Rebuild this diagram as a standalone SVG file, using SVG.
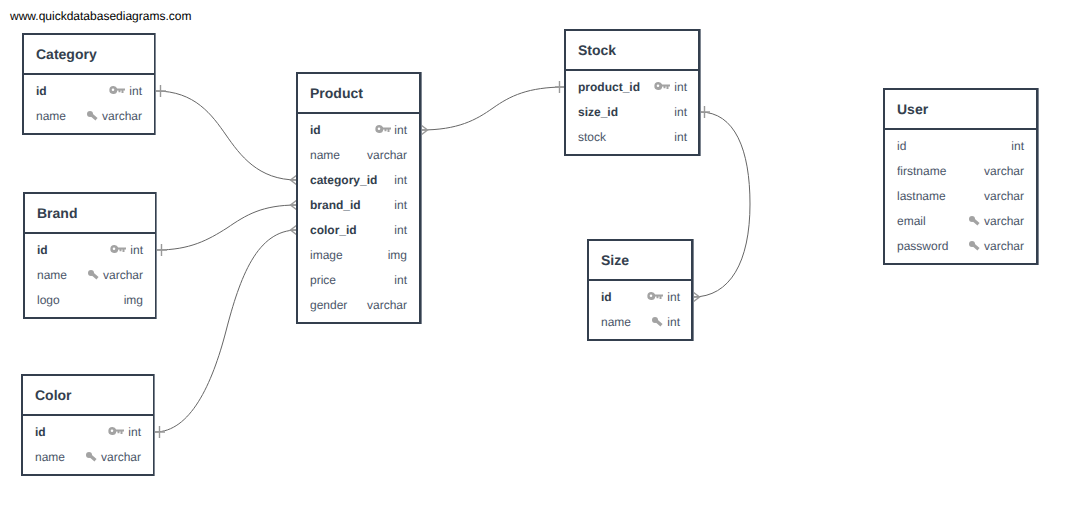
<svg xmlns="http://www.w3.org/2000/svg" width="1075" height="511" viewBox="0 0 1075 511">
<style>
text{font-family:"Liberation Sans",Arial,sans-serif;font-size:12px;fill:#4a5568;text-rendering:geometricPrecision;opacity:.999}
.site{fill:#000}
.t{font-size:14px;font-weight:bold;fill:#343f4e}
.b{font-weight:bold;fill:#343f4e}
.r{text-anchor:end}
.box{fill:#fff;stroke:#343f4e;stroke-width:2}
.edge{fill:none;stroke:#7d8590;stroke-width:1}
.hl{stroke:#343f4e;stroke-width:2}
.c{fill:none;stroke:#666;stroke-width:1}
.m{fill:none;stroke:#999;stroke-width:1.400}
.kf{fill:#a3a3a3}
</style>
<defs>
<g id="pk"><path class="kf" fill-rule="evenodd" d="M4 0A4 4 0 0 1 7.700 2.500H15.500V4.500H14V7H12V4.500H11V6.300H9V4.500H7.800A4 4 0 1 1 4 0ZM3.500 2.500A1.300 1.300 0 1 0 3.500 5.100A1.300 1.300 0 1 0 3.500 2.500Z"/></g>
<g id="fk"><circle cx="3" cy="3" r="3" class="kf"/><path d="M4 3.500L9.500 8.300" stroke="#a3a3a3" stroke-width="3.200" fill="none"/></g>
</defs>
<text class="site" x="10" y="20">www.quickdatabasediagrams.com</text>
<g id="connectors">
<path class="c" d="M156 91C195 91 212 115 226 135C240 155 258 180 297 180"/><path class="m" d="M156 91H166M160.500 85V97M297 175L290.500 180L297 185M290.500 180H297"/>
<path class="c" d="M157 250C190 250 208 240 227 228C246 215 262 205 297 205"/><path class="m" d="M157 250H167M161.500 244V256M297 200L290.500 205L297 210M290.500 205H297"/>
<path class="c" d="M155 432C190 432 212 385 226 331C240 277 257 230 297 230"/><path class="m" d="M155 432H165M159.500 426V438M297 225L290.500 230L297 235M290.500 230H297"/>
<path class="c" d="M421 130C458 130 476 120 493 108C510 96 528 87 565 87"/><path class="m" d="M421 125L427.500 130L421 135M421 130H427.500M555 87H565M559.500 81V93"/>
<path class="c" d="M700 112C735 112 750 150 750 204C750 262 730 297 693 297"/><path class="m" d="M700 112H710M704.500 106V118M693 292L699.500 297L693 302M693 297H699.500"/>
</g>
<g id="category">
<rect class="box" x="23" y="34" width="132" height="100"/><path class="edge" d="M155.500 33V135"/><path class="hl" d="M23 74H155"/>
<text class="t" x="36" y="59">Category</text>
<text class="b" x="36" y="95">id</text><use href="#pk" x="109.500" y="86"/><text class="r" x="142" y="95">int</text>
<text x="36" y="120">name</text><use href="#fk" x="87" y="111"/><text class="r" x="142" y="120">varchar</text>
</g>
<g id="brand">
<rect class="box" x="24" y="193" width="132" height="125"/><path class="edge" d="M156.500 192V319"/><path class="hl" d="M24 233H156"/>
<text class="t" x="37" y="218">Brand</text>
<text class="b" x="37" y="254">id</text><use href="#pk" x="110.500" y="245"/><text class="r" x="143" y="254">int</text>
<text x="37" y="279">name</text><use href="#fk" x="88" y="270"/><text class="r" x="143" y="279">varchar</text>
<text x="37" y="304">logo</text><text class="r" x="143" y="304">img</text>
</g>
<g id="color">
<rect class="box" x="22" y="375" width="132" height="100"/><path class="edge" d="M154.500 374V476"/><path class="hl" d="M22 415H154"/>
<text class="t" x="35" y="400">Color</text>
<text class="b" x="35" y="436">id</text><use href="#pk" x="108.500" y="427"/><text class="r" x="141" y="436">int</text>
<text x="35" y="461">name</text><use href="#fk" x="86" y="452"/><text class="r" x="141" y="461">varchar</text>
</g>
<g id="product">
<rect class="box" x="297" y="73" width="123" height="250"/><path class="edge" d="M421.500 72V324"/><path class="hl" d="M297 113H420"/>
<text class="t" x="310" y="98">Product</text>
<text class="b" x="310" y="134">id</text><use href="#pk" x="375.500" y="125"/><text class="r" x="407" y="134">int</text>
<text x="310" y="159">name</text><text class="r" x="407" y="159">varchar</text>
<text class="b" x="310" y="184">category_id</text><text class="r" x="407" y="184">int</text>
<text class="b" x="310" y="209">brand_id</text><text class="r" x="407" y="209">int</text>
<text class="b" x="310" y="234">color_id</text><text class="r" x="407" y="234">int</text>
<text x="310" y="259">image</text><text class="r" x="407" y="259">img</text>
<text x="310" y="284">price</text><text class="r" x="407" y="284">int</text>
<text x="310" y="309">gender</text><text class="r" x="407" y="309">varchar</text>
</g>
<g id="stock">
<rect class="box" x="565" y="30" width="134" height="125"/><path class="edge" d="M700.500 29V156"/><path class="hl" d="M565 70H699"/>
<text class="t" x="578" y="55">Stock</text>
<text class="b" x="578" y="91">product_id</text><use href="#pk" x="654.500" y="82"/><text class="r" x="687" y="91">int</text>
<text class="b" x="578" y="116">size_id</text><text class="r" x="687" y="116">int</text>
<text x="578" y="141">stock</text><text class="r" x="687" y="141">int</text>
</g>
<g id="size">
<rect class="box" x="588" y="240" width="104" height="100"/><path class="edge" d="M693.500 239V341"/><path class="hl" d="M588 280H692"/>
<text class="t" x="601" y="265">Size</text>
<text class="b" x="601" y="301">id</text><use href="#pk" x="647.500" y="292"/><text class="r" x="680" y="301">int</text>
<text x="601" y="326">name</text><use href="#fk" x="652" y="317"/><text class="r" x="680" y="326">int</text>
</g>
<g id="user">
<rect class="box" x="884" y="89" width="153" height="175"/><path class="edge" d="M1038.500 88V265"/><path class="hl" d="M884 129H1037"/>
<text class="t" x="897" y="114">User</text>
<text x="897" y="150">id</text><text class="r" x="1024" y="150">int</text>
<text x="897" y="175">firstname</text><text class="r" x="1024" y="175">varchar</text>
<text x="897" y="200">lastname</text><text class="r" x="1024" y="200">varchar</text>
<text x="897" y="225">email</text><use href="#fk" x="969" y="216"/><text class="r" x="1024" y="225">varchar</text>
<text x="897" y="250">password</text><use href="#fk" x="969" y="241"/><text class="r" x="1024" y="250">varchar</text>
</g>
</svg>
